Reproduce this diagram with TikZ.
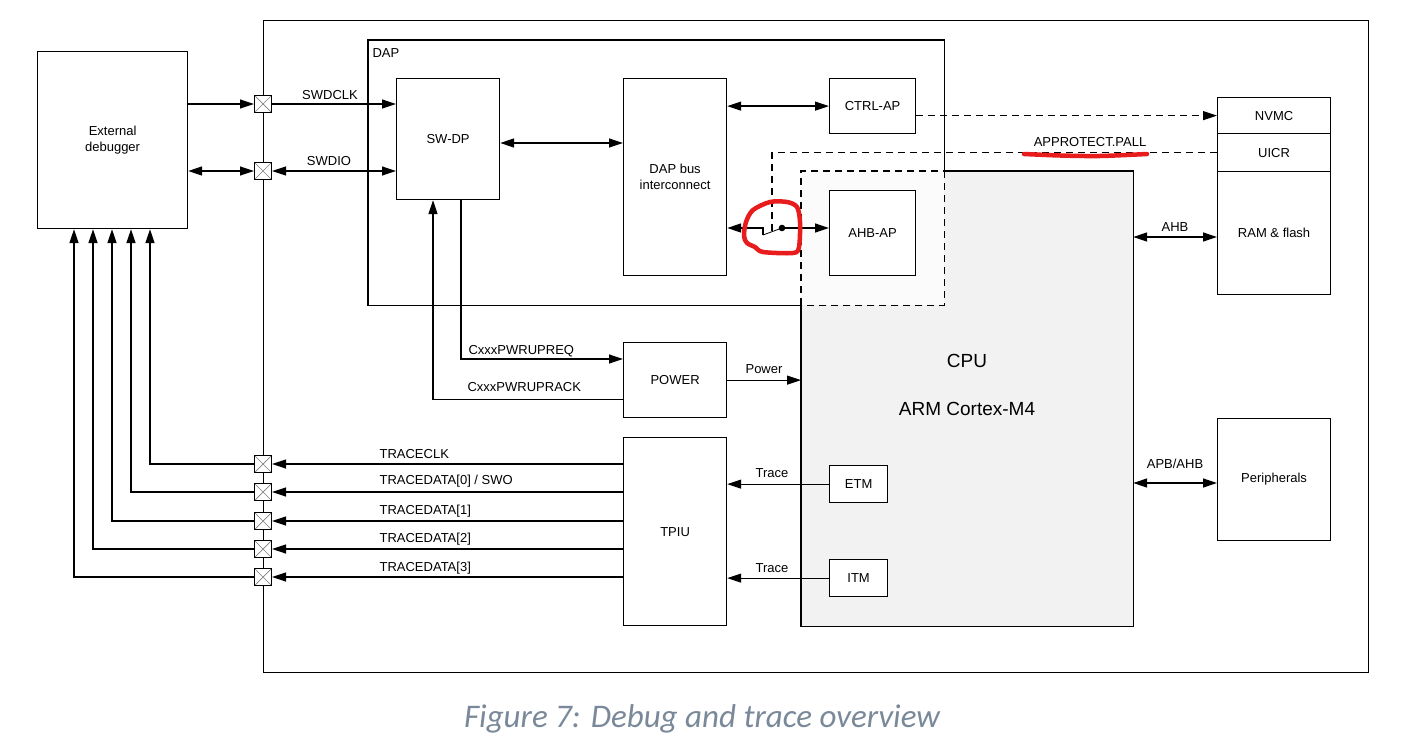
\documentclass[tikz,border=0pt]{standalone}
\usepackage{fontspec}
\setmainfont{Liberation Sans}
\newfontfamily\capfont{Carlito}
\usetikzlibrary{arrows.meta,calc}
\definecolor{cpugray}{RGB}{242,242,242}
\definecolor{ovgray}{RGB}{251,251,251}
\definecolor{capcol}{RGB}{122,137,153}
\definecolor{annored}{RGB}{232,28,28}
\begin{document}
\begin{tikzpicture}[x=1pt,y=-1pt,line width=1.2pt,
  >={Triangle[length=14pt,width=9pt]},
  box/.style={draw,fill=white,inner sep=0pt,align=center,anchor=north west,font=\fontsize{13}{16}\selectfont},
  lab/.style={inner sep=1pt,font=\fontsize{13}{15}\selectfont},
  pad/.style={draw,fill=white,minimum size=17pt,inner sep=0pt,line width=1pt,
    path picture={\draw[gray,line width=0.7pt]
      (path picture bounding box.north west) -- (path picture bounding box.south east)
      (path picture bounding box.south west) -- (path picture bounding box.north east);}},
  dsh/.style={dash pattern=on 7pt off 5pt},
  anno/.style={draw=annored,line width=4.5pt,line cap=round,line join=round}]
\useasboundingbox (0,0) rectangle (1424,754);
\fill[white] (0,0) rectangle (1424,754);
% outer chip boundary
\node[draw,inner sep=0pt,minimum width=1105pt,minimum height=652pt,anchor=north west] (chip) at (263,20) {};
% DAP region (borders drawn separately)
\node[fill=white,inner sep=0pt,minimum width=575pt,minimum height=264pt,anchor=north west] (dap) at (368,40) {};
\node[fill=cpugray,inner sep=0pt,minimum width=331pt,minimum height=454pt,anchor=north west] (cpu) at (801,171) {};
\fill[ovgray] (cpu.north west) rectangle (dap.south east);
\draw (dap.south -| cpu.west) -- (dap.south west) -- (dap.north west) -- (dap.north east) -- (dap.east |- cpu.north);
\draw[dsh] (dap.east |- cpu.north) -- (dap.south east) -- (dap.south -| cpu.west);
\draw (cpu.north -| dap.east) -- (cpu.north east) -- (cpu.south east) -- (cpu.south west) -- (cpu.west |- dap.south);
\draw[dsh] (cpu.west |- dap.south) -- (cpu.north west) -- (cpu.north -| dap.east);
\node[lab,anchor=west] (daplab) at (371,53) {DAP};
\node[font=\fontsize{19}{22}\selectfont] (cpulab) at (967,361) {CPU};
\node[font=\fontsize{19}{22}\selectfont] (cpulab2) at (967,409) {ARM Cortex-M4};
% boxes
\node[box,minimum width=150pt,minimum height=177pt] (ext) at (37,51) {External\\debugger};
\node[box,minimum width=103pt,minimum height=121pt] (swdp) at (396,78) {SW-DP};
\node[box,minimum width=103pt,minimum height=197pt] (bus) at (623,78) {DAP bus\\interconnect};
\node[box,minimum width=86pt,minimum height=55pt] (ctrlap) at (829,78) {CTRL-AP};
\node[box,minimum width=86pt,minimum height=85pt] (ahbap) at (829,190) {AHB-AP};
\node[box,minimum width=113pt,minimum height=36pt] (nvmc) at (1217,97) {NVMC};
\node[box,minimum width=113pt,minimum height=38pt] (uicr) at (1217,133) {UICR};
\node[box,minimum width=113pt,minimum height=123pt] (ram) at (1217,171) {RAM \& flash};
\node[box,minimum width=113pt,minimum height=122pt] (periph) at (1217,418) {Peripherals};
\node[box,minimum width=103pt,minimum height=75pt] (power) at (623,342) {POWER};
\node[box,minimum width=103pt,minimum height=188pt] (tpiu) at (623,437) {TPIU};
\node[box,minimum width=58pt,minimum height=37pt] (etm) at (829,465) {ETM};
\node[box,minimum width=58pt,minimum height=37pt] (itm) at (829,559) {ITM};
% pads
\node[pad] (p1) at (263,104) {};
\node[pad] (p2) at (263,171) {};
\node[pad] (t1) at (263,464) {};
\node[pad] (t2) at (263,492) {};
\node[pad] (t3) at (263,521) {};
\node[pad] (t4) at (263,549) {};
\node[pad] (t5) at (263,577) {};
% SWD
\draw[->] (ext.east |- p1) -- (p1.west);
\draw[->] (p1.east) -- (p1 -| swdp.west);
\node[lab] (lswdclk) at (330,95) {SWDCLK};
\draw[<->] (ext.east |- p2) -- (p2.west);
\draw[<->] (p2.east) -- (p2 -| swdp.west);
\node[lab] (lswdio) at (329,161) {SWDIO};
% DAP internal
\coordinate (busy) at (0,143);
\draw[<->] (swdp.east |- busy) -- (bus.west |- busy);
\draw[<->] (bus.east |- ctrlap) -- (ctrlap.west);
\coordinate (swa) at (763,228);
\coordinate (swb) at (763,235);
\coordinate (swc) at (782,228);
\draw[<-] (bus.east |- swa) -- (swa) -- (swb);
\draw[line width=0.8pt] (swb) -- (swc);
\fill (swc) circle (3.3pt);
\draw[->] (swc) -- (swc -| ahbap.west);
% dashed control lines
\draw[dsh,->] (ctrlap.east |- nvmc) -- (nvmc.west);
\coordinate (lev) at (772,231);
\draw[dsh] (uicr.west) -- (uicr.west -| lev) -- (lev);
\node[lab] (lappr) at (1090,142) {APPROTECT.PALL};
% buses
\coordinate (ahby) at (0,237);
\draw[<->] (cpu.east |- ahby) -- (ram.west |- ahby);
\node[lab] (lahb) at (1175,227) {AHB};
\coordinate (apby) at (0,483);
\draw[<->] (cpu.east |- apby) -- (periph.west |- apby);
\node[lab] (lapb) at (1175,464) {APB/AHB};
% power
\draw[->] ($(swdp.south west)+(65,0)$) |- ($(power.north west)+(0,17)$);
\node[lab,anchor=west] (lreq) at (467,351) {CxxxPWRUPREQ};
\draw[->] ($(power.south west)+(0,-19)$) -| ($(swdp.south west)+(37,0)$);
\node[lab,anchor=west] (lack) at (466,387) {CxxxPWRUPRACK};
\draw[->] (power.east) -- (power.east -| cpu.west);
\node[lab] (lpow) at (764,369) {Power};
% trace
\draw[->] (etm.west) -- (etm.west -| tpiu.east);
\node[lab] (ltr1) at (772,473) {Trace};
\draw[->] (itm.west) -- (itm.west -| tpiu.east);
\node[lab] (ltr2) at (772,568) {Trace};
\draw[->] (tpiu.west |- t1) -- (t1.east);
\node[lab,anchor=west] (lt1) at (378,454) {TRACECLK};
\draw[->] (tpiu.west |- t2) -- (t2.east);
\node[lab,anchor=west] (lt2) at (378,481) {TRACEDATA[0] / SWO};
\draw[->] (tpiu.west |- t3) -- (t3.east);
\node[lab,anchor=west] (lt3) at (378,511) {TRACEDATA[1]};
\draw[->] (tpiu.west |- t4) -- (t4.east);
\node[lab,anchor=west] (lt4) at (378,539) {TRACEDATA[2]};
\draw[->] (tpiu.west |- t5) -- (t5.east);
\node[lab,anchor=west] (lt5) at (378,568) {TRACEDATA[3]};
\draw[->] (t1.west) -| ($(ext.south west)+(113,0)$);
\draw[->] (t2.west) -| ($(ext.south west)+(94,0)$);
\draw[->] (t3.west) -| ($(ext.south west)+(75,0)$);
\draw[->] (t4.west) -| ($(ext.south west)+(56,0)$);
\draw[->] (t5.west) -| ($(ext.south west)+(37,0)$);
% red annotations
\draw[anno] plot[smooth cycle] coordinates {(753,210) (770,202) (787,202) (797,207) (800,222) (799,247) (793,253) (763,252) (755,247) (747,243) (744,236) (746,222)};
\draw[anno] plot[smooth] coordinates {(1024,154) (1060,155.5) (1100,156) (1147,154)};
% caption
\node[text=capcol,font=\capfont\itshape\fontsize{33}{38}\selectfont] (cap) at (702,719) {Figure 7: Debug and trace overview};
\end{tikzpicture}
\end{document}
